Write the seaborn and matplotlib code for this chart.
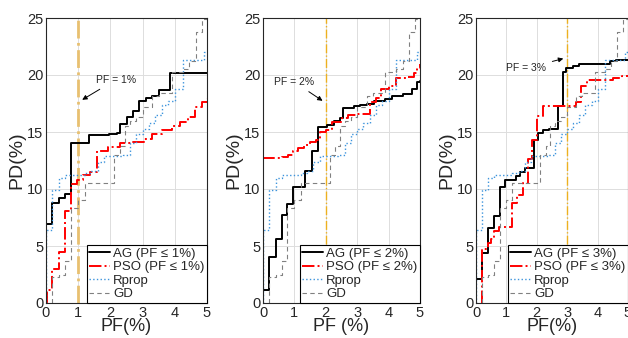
import matplotlib
matplotlib.use("Agg")
import matplotlib.pyplot as plt
import seaborn as sns
import pandas as pd

# baselines shared by all three panels (step curves, value holds until next x)
rprop_x = [0, 0, 0.2, 0.4, 0.6, 1.2, 1.4, 1.6, 1.8, 2.4, 2.6, 2.8, 3.0, 3.2, 3.4, 3.6, 3.8, 4.0, 4.25, 4.9, 5.0]
rprop_y = [0, 6.4, 9.9, 11.0, 11.2, 11.4, 11.6, 12.4, 12.9, 13.0, 14.0, 14.8, 15.3, 15.8, 16.5, 17.4, 17.7, 18.8, 21.3, 22.0, 22.0]
gd_x = [0.2, 0.2, 0.4, 0.6, 0.78, 1.0, 1.2, 2.12, 2.3, 2.45, 2.6, 2.8, 3.0, 3.3, 3.5, 3.9, 4.25, 4.45, 4.65, 4.85, 5.0]
gd_y = [0, 2.3, 2.5, 3.7, 8.3, 9.0, 10.5, 13.0, 13.8, 15.5, 16.0, 16.3, 17.2, 18.2, 18.4, 20.3, 20.5, 21.2, 23.8, 24.9, 24.9]

# PF = 1%
ag1_x = [0, 0, 0.2, 0.4, 0.6, 0.78, 1.35, 1.95, 2.2, 2.3, 2.5, 2.7, 2.9, 3.1, 3.3, 3.5, 3.85, 5.0]
ag1_y = [0, 6.9, 8.8, 9.2, 9.6, 14.0, 14.7, 14.8, 14.9, 15.7, 16.3, 16.8, 17.7, 18.0, 18.2, 18.7, 20.2, 20.2]
pso1_x = [0, 0.02, 0.2, 0.4, 0.6, 0.77, 0.97, 1.16, 1.37, 1.57, 1.92, 2.3, 2.71, 3.04, 3.3, 3.6, 3.9, 4.15, 4.4, 4.63, 4.85, 5.0]
pso1_y = [0, 1.1, 3.0, 4.5, 8.1, 10.4, 10.8, 11.2, 11.5, 13.3, 13.7, 14.0, 14.1, 14.4, 14.8, 15.2, 15.5, 15.9, 16.3, 17.2, 17.6, 18.0]

# PF = 2%
ag2_x = [0, 0, 0.2, 0.4, 0.6, 0.78, 0.97, 1.35, 1.55, 1.75, 2.05, 2.25, 2.45, 2.55, 2.9, 3.1, 3.3, 3.55, 3.9, 4.1, 4.45, 4.75, 4.9, 5.0]
ag2_y = [0, 1.1, 4.0, 5.6, 7.7, 8.7, 10.2, 11.6, 13.3, 15.4, 15.6, 16.0, 16.2, 17.1, 17.3, 17.4, 17.5, 17.7, 17.9, 18.2, 18.3, 18.8, 19.4, 19.5]
pso2_x = [0, 0, 0.6, 0.8, 0.95, 1.1, 1.3, 1.5, 1.7, 1.8, 2.0, 2.2, 2.5, 2.7, 3.0, 3.4, 3.6, 3.75, 4.0, 4.25, 4.55, 4.8, 4.9, 5.0]
pso2_y = [0, 12.7, 12.8, 13.0, 13.3, 13.6, 13.9, 14.1, 14.3, 15.0, 15.2, 15.9, 16.2, 16.5, 16.6, 17.6, 18.0, 18.8, 19.0, 19.7, 19.8, 20.2, 20.6, 21.0]

# PF = 3%
ag3_x = [0, 0, 0.2, 0.4, 0.6, 0.78, 0.97, 1.3, 1.45, 1.6, 1.9, 2.05, 2.2, 2.4, 2.7, 2.85, 2.95, 3.2, 3.4, 4.4, 4.6, 5.0]
ag3_y = [0, 2.1, 4.4, 6.6, 7.6, 10.2, 10.8, 11.1, 11.5, 11.8, 14.3, 14.9, 15.2, 15.3, 17.3, 20.3, 20.6, 20.8, 21.0, 21.2, 21.3, 21.3]
pso3_x = [0.2, 0.2, 0.4, 0.5, 0.6, 0.75, 1.2, 1.35, 1.55, 1.7, 1.85, 2.0, 2.2, 3.28, 3.44, 3.66, 4.5, 4.8, 5.0]
pso3_y = [0, 4.7, 5.3, 5.6, 6.3, 6.7, 8.8, 9.5, 10.5, 12.6, 14.3, 16.4, 17.3, 17.6, 19.0, 19.6, 19.7, 19.9, 20.0]

pf_limits = [1, 2, 3]
pf_xlabels = ["PF(%)", "PF (%)", "PF(%)"]
ag_series = [(ag1_x, ag1_y), (ag2_x, ag2_y), (ag3_x, ag3_y)]
pso_series = [(pso1_x, pso1_y), (pso2_x, pso2_y), (pso3_x, pso3_y)]
# annotation: text position and arrow tip (data coords)
notes = [((1.55, 19.6), (1.05, 17.7)),
         ((0.35, 19.4), (1.97, 17.6)),
         ((1.0, 20.6), (2.96, 21.5))]

sns.set_style("whitegrid")
plt.rcParams['font.family'] = ['Liberation Sans', 'DejaVu Sans']

fig = plt.figure(figsize=(6.28, 3.38), dpi=100)
lefts = [46, 263, 476]
widths = [161, 157, 152]
axes = [fig.add_axes([l / 628, 35 / 338, w / 628, 285 / 338]) for l, w in zip(lefts, widths)]


def step_line(ax, x, y, **kw):
    df = pd.DataFrame({"x": x, "y": y})
    sns.lineplot(data=df, x="x", y="y", ax=ax, sort=False, estimator=None,
                 drawstyle="steps-post", **kw)


for i, ax in enumerate(axes):
    pf = pf_limits[i]
    if i == 0:
        ax.axvline(pf, color="#e8c070", lw=2.0, ls="-.", zorder=1)
    else:
        ax.axvline(pf, color="#EDB120", lw=1.0, ls="-.", zorder=1)
    step_line(ax, *ag_series[i], color="black", lw=1.4, label=f"AG (PF ≤ {pf}%)")
    step_line(ax, *pso_series[i], color="#ff0000", lw=1.4, ls="-.", label=f"PSO (PF ≤ {pf}%)")
    step_line(ax, rprop_x, rprop_y, color="#3d94dc", lw=1.0, ls=":", label="Rprop")
    step_line(ax, gd_x, gd_y, color="#808080", lw=0.8, ls=(0, (4, 3)), label="GD")

    (tx, ty), (px, py) = notes[i]
    ax.annotate(f"PF = {pf}%", xy=(px, py), xytext=(tx, ty), fontsize=7.5,
                va="center", ha="left",
                arrowprops=dict(arrowstyle="-|>", color="black", lw=0.7, mutation_scale=7))

    ax.set_xlim(0, 5)
    ax.set_ylim(0, 25)
    ax.set_xticks(range(0, 6))
    ax.set_yticks(range(0, 26, 5))
    ax.set_xlabel(pf_xlabels[i], fontsize=13, labelpad=-1)
    ax.set_ylabel("PD(%)", fontsize=14, labelpad=1)
    ax.tick_params(labelsize=10.5, direction="in", length=3, pad=2, color="#262626")
    ax.grid(True, color="#dddddd", lw=0.7)
    for sp in ax.spines.values():
        sp.set_color("#262626")
        sp.set_linewidth(0.8)
    leg = ax.legend(loc="lower right", fontsize=9.5, handlelength=1.6, handletextpad=0.2,
                    labelspacing=0.1, borderpad=0.2, borderaxespad=0.0, fancybox=False,
                    framealpha=1)
    leg.get_frame().set_edgecolor("black")
    leg.get_frame().set_linewidth(0.8)

fig.savefig("out.png", dpi=100)
